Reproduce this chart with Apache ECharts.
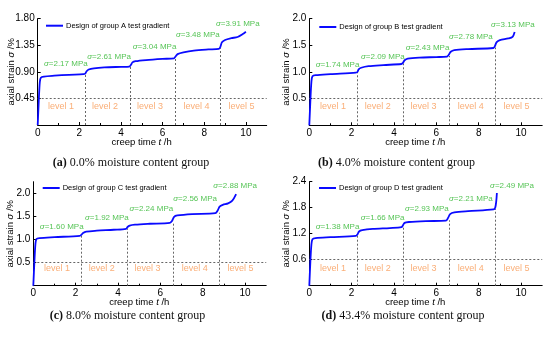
<!DOCTYPE html>
<html><head><meta charset="utf-8">
<script src="https://cdn.jsdelivr.net/npm/echarts@6/dist/echarts.min.js"></script>
<style>html,body{margin:0;padding:0;background:#fff}#c{width:550px;height:339px}</style>
</head><body><div id="c"></div>
<script>
// ---------- data ----------
const groupNames = ['Design of group A test gradient','Design of group B test gradient','Design of group C test gradient','Design of group D test gradient'];
const captions = ['0.0% moisture content group','4.0% moisture content group','8.0% moisture content group','43.4% moisture content group'];
const captionTags = ['(a)','(b)','(c)','(d)'];
const xTicks = [0,2,4,6,8,10];
const yTicksA = [0.45,0.90,1.35,1.80];
const yTicksB = [0.5,1.0,1.5,2.0];
const yTicksC = [0.5,1.0,1.5,2.0];
const yTicksD = [0.6,1.2,1.8,2.4];
const yMax = [1.80, 2.0, 2.25, 2.4];
const levelBoundaries = [2.28, 4.45, 6.63, 8.77];
const levelNames = ['level 1','level 2','level 3','level 4','level 5'];
const levelCentersX = [1.12, 3.23, 5.39, 7.63, 9.79];
const levelLabelY = [0.31, 0.36, 0.37, 0.39];
const thresholdY = [0.45, 0.5, 0.5, 0.6];
const boundaryTopsA = [0.87, 1.00, 1.14, 1.30];
const boundaryTopsB = [1.00, 1.16, 1.30, 1.46];
const boundaryTopsC = [1.09, 1.24, 1.37, 1.58];
const boundaryTopsD = [1.16, 1.36, 1.51, 1.77];
const stressA = ['2.17','2.61','3.04','3.48','3.91'];
const stressB = ['1.74','2.09','2.43','2.78','3.13'];
const stressC = ['1.60','1.92','2.24','2.56','2.88'];
const stressD = ['1.38','1.66','2.93','2.21','2.49'];
const stressPosA = [[0.30,1.03],[2.38,1.16],[4.56,1.32],[6.64,1.52],[8.56,1.71]];
const stressPosB = [[0.30,1.14],[2.44,1.29],[4.55,1.46],[6.60,1.66],[8.58,1.89]];
const stressPosC = [[0.31,1.28],[2.44,1.46],[4.54,1.66],[6.61,1.88],[8.50,2.17]];
const stressPosD = [[0.30,1.36],[2.43,1.56],[4.52,1.77],[6.60,2.01],[8.54,2.31]];
const curveA = [[0,0],[0.05,0.4],[0.1,0.72],[0.15,0.80],[0.3,0.82],[0.8,0.835],[1.5,0.85],[2.2,0.86],[2.28,0.87],[2.35,0.91],[2.45,0.94],[2.7,0.96],[3.2,0.975],[4.0,0.985],[4.4,0.99],[4.48,1.02],[4.55,1.06],[4.7,1.08],[5.2,1.10],[6.0,1.12],[6.55,1.13],[6.62,1.16],[6.72,1.20],[7.0,1.23],[7.5,1.26],[8.2,1.28],[8.7,1.29],[8.77,1.32],[8.85,1.40],[9.0,1.44],[9.3,1.47],[9.6,1.49],[9.85,1.54],[10.0,1.58]];
const curveB = [[0,0],[0.05,0.45],[0.1,0.82],[0.15,0.92],[0.3,0.94],[1.0,0.96],[2.2,0.99],[2.27,1.0],[2.33,1.05],[2.45,1.08],[2.8,1.11],[3.5,1.13],[4.35,1.15],[4.42,1.17],[4.5,1.22],[4.65,1.25],[5.2,1.27],[6.0,1.28],[6.5,1.29],[6.58,1.32],[6.68,1.38],[6.85,1.41],[7.5,1.43],[8.7,1.45],[8.76,1.48],[8.85,1.56],[9.0,1.60],[9.4,1.63],[9.6,1.66],[9.7,1.75]];
const curveC = [[0,0],[0.05,0.5],[0.1,0.9],[0.15,1.01],[0.3,1.03],[1.0,1.05],[2.2,1.08],[2.27,1.10],[2.35,1.14],[2.5,1.17],[3.0,1.19],[3.8,1.21],[4.38,1.23],[4.45,1.27],[4.55,1.30],[4.8,1.32],[5.5,1.34],[6.45,1.36],[6.55,1.40],[6.65,1.49],[6.8,1.52],[7.5,1.55],[8.6,1.57],[8.7,1.62],[8.8,1.71],[8.95,1.75],[9.2,1.78],[9.4,1.84],[9.58,1.98]];
const curveD = [[0,0],[0.05,0.55],[0.1,0.95],[0.15,1.07],[0.3,1.10],[1.0,1.12],[2.2,1.15],[2.27,1.18],[2.35,1.25],[2.5,1.28],[3.0,1.31],[3.8,1.33],[4.35,1.35],[4.42,1.39],[4.5,1.45],[4.7,1.47],[5.5,1.49],[6.45,1.50],[6.55,1.56],[6.65,1.65],[6.85,1.69],[7.5,1.72],[8.7,1.76],[8.78,1.80],[8.83,1.95],[8.86,2.14]];

// ---------- layout / styles ----------
const curves = [curveA, curveB, curveC, curveD];
const yTicks = [yTicksA, yTicksB, yTicksC, yTicksD];
const yDec = [2,1,1,1];
const tops = [boundaryTopsA, boundaryTopsB, boundaryTopsC, boundaryTopsD];
const stresses = [stressA, stressB, stressC, stressD];
const stressPos = [stressPosA, stressPosB, stressPosC, stressPosD];
const grids = [
  {left:37.7, top:18.7, width:229, height:106.3},
  {left:309.3, top:18.7, width:232.9, height:106.6},
  {left:33.3, top:181.7, width:232.9, height:104},
  {left:309.3, top:181.7, width:232.9, height:104}
];
const yNameGap = [21.5, 18, 17.5, 18];
const legendPos = [[46,21.7],[319.3,23],[42.7,184],[319,184]];
const captionPos = [[131,163.3],[396.5,162.7],[127.5,316],[403,316]];
const FONT = '"Liberation Sans", Arial, sans-serif';
const BLUE = '#0a0aff', GREEN = '#2ab52a', ORANGE = '#f99a55', DOT = '#666';

const option = {animation:false, grid:[], xAxis:[], yAxis:[], series:[], legend:[], graphic:[]};
for (let i=0;i<4;i++){
  option.grid.push(Object.assign({containLabel:false}, grids[i]));
  option.xAxis.push({
    type:'value', gridIndex:i, min:0, max:11,
    name:'creep time {i|t} /h', nameLocation:'middle', nameGap:12, nameMoveOverlap:false,
    nameTextStyle:{fontFamily:FONT, fontSize:9.5, color:'#000', padding:[0,21,0,0],
      rich:{i:{fontStyle:'italic', fontFamily:FONT, fontSize:9.5, color:'#000'}}},
    axisLine:{lineStyle:{color:'#000', width:1}},
    axisTick:{inside:true, length:3, customValues:xTicks, lineStyle:{color:'#000'}},
    minorTick:{show:true, splitNumber:2, length:2, lineStyle:{color:'#000'}},
    axisLabel:{customValues:xTicks, margin:3, fontFamily:FONT, fontSize:10, color:'#000'},
    splitLine:{show:false}
  });
  option.yAxis.push({
    type:'value', gridIndex:i, min:0, max:yMax[i],
    name:'axial strain {i|σ} /%', nameLocation:'middle', nameGap:yNameGap[i], nameMoveOverlap:false,
    nameTextStyle:{fontFamily:FONT, fontSize:9.5, color:'#000',
      rich:{i:{fontStyle:'italic', fontFamily:FONT, fontSize:9.5, color:'#000'}}},
    axisLine:{show:true, lineStyle:{color:'#000', width:1}},
    axisTick:{show:true, inside:true, length:3, customValues:yTicks[i], lineStyle:{color:'#000'}},
    axisLabel:{customValues:yTicks[i], margin:3, fontFamily:FONT, fontSize:10, color:'#000',
      formatter:(v)=>Number(v).toFixed(yDec[i])},
    splitLine:{show:false}
  });
  const ml = [];
  levelBoundaries.forEach((t,k)=>ml.push([{coord:[t,0]},{coord:[t,tops[i][k]]}]));
  ml.push([{coord:[0,thresholdY[i]]},{coord:[11,thresholdY[i]]}]);
  option.series.push({
    name:groupNames[i], type:'line', xAxisIndex:i, yAxisIndex:i, data:curves[i],
    symbol:'none', smooth:0.3, lineStyle:{color:BLUE, width:1.8}, itemStyle:{color:BLUE}, z:5,
    markLine:{silent:true, symbol:['none','none'], label:{show:false}, animation:false,
      lineStyle:{color:DOT, type:[2,2], width:1}, data:ml}
  });
  option.series.push({
    type:'scatter', xAxisIndex:i, yAxisIndex:i, symbolSize:0, silent:true, z:6,
    data:stressPos[i].map((p,k)=>[p[0],p[1],stresses[i][k]]),
    label:{show:true, position:[0,0], align:'left', verticalAlign:'middle',
      fontFamily:FONT, fontSize:8, color:GREEN,
      formatter:(p)=>'{i|σ}=' + p.data[2] + ' MPa',
      rich:{i:{fontStyle:'italic', fontFamily:FONT, fontSize:8, color:GREEN}}}
  });
  option.series.push({
    type:'scatter', xAxisIndex:i, yAxisIndex:i, symbolSize:0, silent:true, z:6,
    data:levelCentersX.map((x,k)=>[x,levelLabelY[i],levelNames[k]]),
    label:{show:true, position:[0,0], align:'center', verticalAlign:'middle',
      fontFamily:FONT, fontSize:9, color:ORANGE, formatter:(p)=>p.data[2]}
  });
  option.legend.push({
    data:[{name:groupNames[i], icon:'rect'}], left:legendPos[i][0], top:legendPos[i][1], padding:0,
    itemWidth:17, itemHeight:2, itemGap:0, selectedMode:false,
    itemStyle:{color:BLUE},
    textStyle:{fontFamily:FONT, fontSize:7.5, color:'#000', padding:[0,0,0,-2]}
  });
  option.graphic.push({
    type:'text', x:captionPos[i][0], y:captionPos[i][1],
    style:{text:'{b|'+captionTags[i]+'} '+captions[i], align:'center', verticalAlign:'middle',
      font:'12px "Liberation Serif", serif', fill:'#111',
      rich:{b:{fontWeight:'bold', fontFamily:'"Liberation Serif", serif', fontSize:12, fill:'#111'}}}
  });
}
const chart = echarts.init(document.getElementById('c'), null, {renderer:'canvas'});
chart.setOption(option);
</script></body></html>
